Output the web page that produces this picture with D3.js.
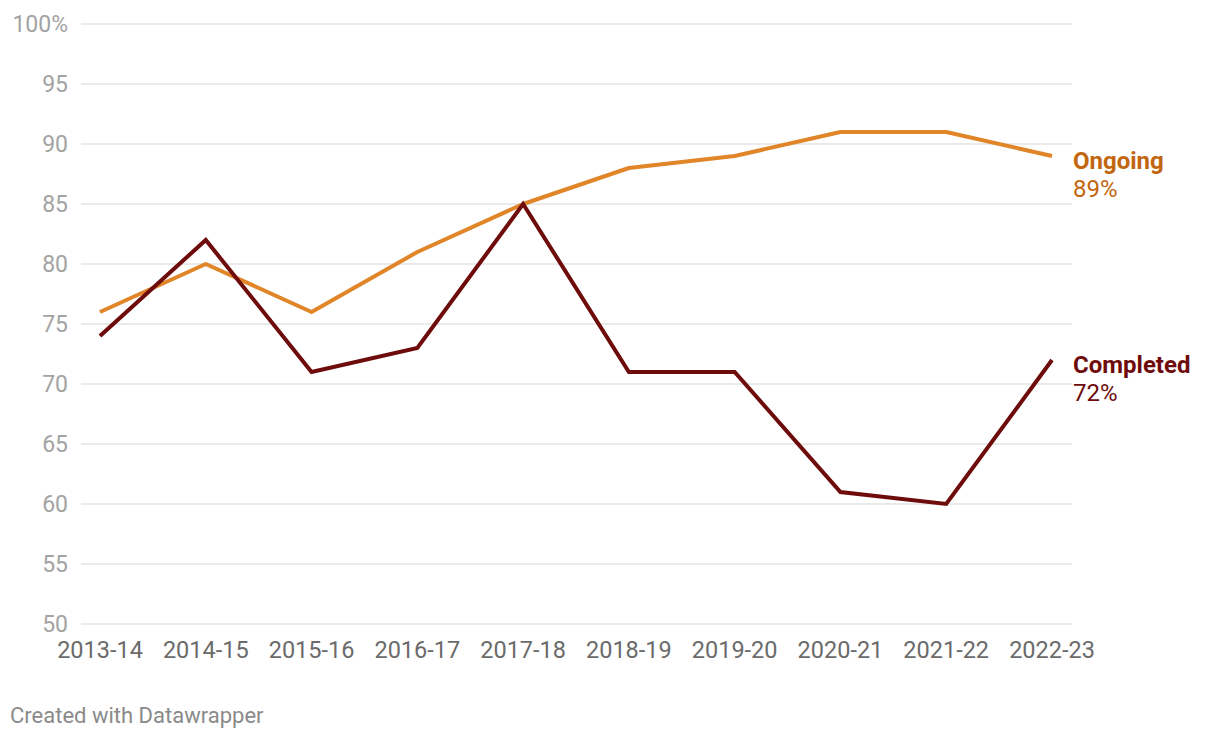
<!DOCTYPE html>
<html>
<head>
<meta charset="utf-8">
<script src="https://cdn.jsdelivr.net/npm/d3@7"></script>
<style>
  body { margin: 0; background: #fff; font-family: Roboto, sans-serif; }
</style>
</head>
<body>
<div class="chart"></div>
<script>
const years = ["2013-14","2014-15","2015-16","2016-17","2017-18","2018-19","2019-20","2020-21","2021-22","2022-23"];
const ongoing = [76, 80, 76, 81, 85, 88, 89, 91, 91, 89];
const completed = [74, 82, 71, 73, 85, 71, 71, 61, 60, 72];
const yTicks = [50, 55, 60, 65, 70, 75, 80, 85, 90, 95, 100];

const WIDTH = 1220, HEIGHT = 740;
const svg = d3.select(".chart").append("svg").attr("width", WIDTH).attr("height", HEIGHT);

const x = d3.scalePoint().domain(years).range([100, 1052]);
const y = d3.scaleLinear().domain([50, 100]).range([624, 24]);

// gridlines + y labels
svg.selectAll("line.grid").data(yTicks).enter().append("line")
  .attr("x1", 81).attr("x2", 1072)
  .attr("y1", d => y(d)).attr("y2", d => y(d))
  .attr("stroke", "#e3e3e3").attr("stroke-width", 1.5);

svg.selectAll("text.ytick").data(yTicks).enter().append("text")
  .attr("x", 68).attr("y", d => y(d) + 8)
  .attr("text-anchor", "end")
  .attr("font-size", 23).attr("fill", "#a3a3a3")
  .text(d => d === 100 ? "100%" : d);

// x labels
svg.selectAll("text.xtick").data(years).enter().append("text")
  .attr("x", d => x(d)).attr("y", 658)
  .attr("text-anchor", "middle")
  .attr("font-size", 23.5).attr("fill", "#6b6b6b")
  .text(d => d);

const line = d3.line().x((d, i) => x(years[i])).y(d => y(d));

svg.append("path").datum(ongoing).attr("d", line)
  .attr("fill", "none").attr("stroke", "#e08528").attr("stroke-width", 4)
  .attr("stroke-linejoin", "round");
svg.append("path").datum(completed).attr("d", line)
  .attr("fill", "none").attr("stroke", "#6e0b0b").attr("stroke-width", 4)
  .attr("stroke-linejoin", "miter");

// end labels
const labels = [
  {name: "Ongoing", v: ongoing[ongoing.length - 1], color: "#c2660e"},
  {name: "Completed", v: completed[completed.length - 1], color: "#6e0b0b"}
];
labels.forEach(l => {
  const g = svg.append("text").attr("x", 1073).attr("font-size", 24).attr("fill", l.color);
  g.append("tspan").attr("x", 1073).attr("y", y(l.v) + 13).attr("font-weight", "bold").text(l.name);
  g.append("tspan").attr("x", 1073).attr("y", y(l.v) + 41).text(l.v + "%");
});

svg.append("text").attr("x", 10).attr("y", 723)
  .attr("font-size", 22).attr("fill", "#8a8a8a")
  .text("Created with Datawrapper");
</script>
</body>
</html>
